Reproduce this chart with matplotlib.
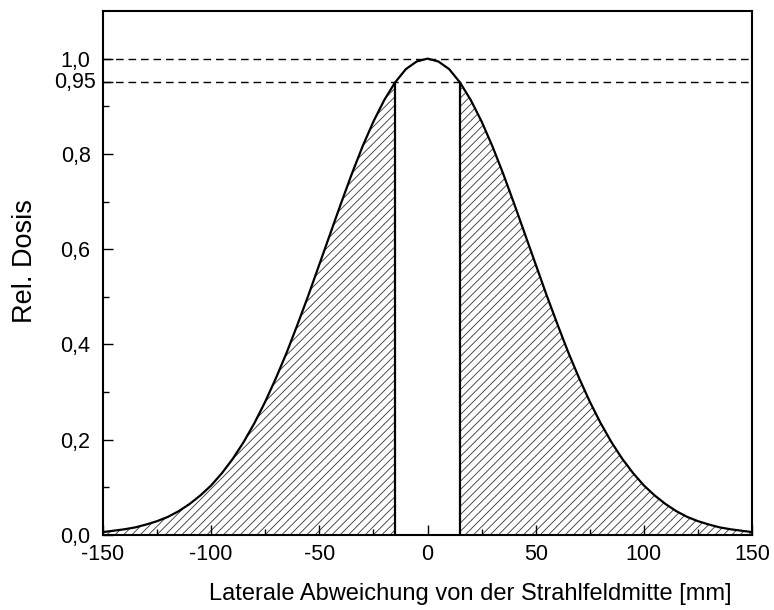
import numpy as np
import matplotlib
matplotlib.use("Agg")
import matplotlib.pyplot as plt
from matplotlib.ticker import MultipleLocator, FixedLocator, FixedFormatter

plt.rcParams['font.family'] = ['Liberation Sans', 'DejaVu Sans']
plt.rcParams['hatch.linewidth'] = 0.6
plt.rcParams['axes.unicode_minus'] = False

# lateral dose profile, relative dose vs. offset from field centre (mm)
pos_mm = np.arange(-150, 151, 5)
dose = np.array([
    0.006, 0.009, 0.012, 0.016, 0.022, 0.029, 0.038, 0.050, 0.065, 0.083,
    0.104, 0.130, 0.160, 0.195, 0.235, 0.280, 0.330, 0.384, 0.443, 0.504,
    0.568, 0.632, 0.696, 0.758, 0.816, 0.868, 0.913, 0.950, 0.978, 0.994,
    1.000,
    0.994, 0.978, 0.950, 0.913, 0.868, 0.816, 0.758, 0.696, 0.632, 0.568,
    0.504, 0.443, 0.384, 0.330, 0.280, 0.235, 0.195, 0.160, 0.130, 0.104,
    0.083, 0.065, 0.050, 0.038, 0.029, 0.022, 0.016, 0.012, 0.009, 0.006,
])
edge_mm = 15          # where the profile drops to 95 %
ref_levels = [1.0, 0.95]

ytick_vals = [0.0, 0.2, 0.4, 0.6, 0.8, 0.95, 1.0]
ytick_labels = ['0,0', '0,2', '0,4', '0,6', '0,8', '', '1,0']

fig = plt.figure(figsize=(7.74, 6.10), dpi=100)
ax = fig.add_axes([0.1331, 0.123, 0.8385, 0.859])

# hatched dose outside the 95 % region
left = pos_mm <= -edge_mm
right = pos_mm >= edge_mm
for m in (left, right):
    ax.fill_between(pos_mm[m], 0, dose[m], facecolor='none',
                    edgecolor='0.2', hatch='////', linewidth=0)

ax.plot(pos_mm, dose, color='black', lw=1.6, zorder=3)

edge_dose = dose[np.isin(pos_mm, [-edge_mm, edge_mm])]
ax.vlines([-edge_mm, edge_mm], 0, edge_dose, color='black', lw=1.6, zorder=3)

for lvl in ref_levels:
    ax.axhline(lvl, color='black', lw=1.0, dashes=(5.5, 3.5), zorder=2)

ax.set_xlim(-150, 150)
ax.set_ylim(0, 1.1)

ax.xaxis.set_major_locator(MultipleLocator(50))
ax.xaxis.set_minor_locator(MultipleLocator(25))
ax.yaxis.set_major_locator(FixedLocator(ytick_vals))
ax.yaxis.set_major_formatter(FixedFormatter(ytick_labels))
ax.yaxis.set_minor_locator(FixedLocator([0.1, 0.3, 0.5, 0.7, 0.9]))

ax.tick_params(which='both', direction='in', top=False, right=False,
               width=1.0, labelsize=15.5)
ax.tick_params(which='major', length=7)
ax.tick_params(which='minor', length=4)
ax.tick_params(axis='x', pad=6.5)
ax.tick_params(axis='y', pad=9)

# the 0,95 label sits a bit closer to the axis than the others
ax.annotate('0,95', xy=(0, 0.95), xycoords=('axes fraction', 'data'),
            xytext=(-5.3, 0), textcoords='offset points',
            ha='right', va='center', fontsize=15.5)

for s in ax.spines.values():
    s.set_linewidth(1.5)

ax.set_xlabel('Laterale Abweichung von der Strahlfeldmitte [mm]', fontsize=17)
ax.xaxis.set_label_coords(0.566, -0.0916)
ax.set_ylabel('Rel. Dosis', fontsize=19.5)
ax.yaxis.set_label_coords(-0.1008, 0.523)

fig.savefig('out.png', dpi=100)
